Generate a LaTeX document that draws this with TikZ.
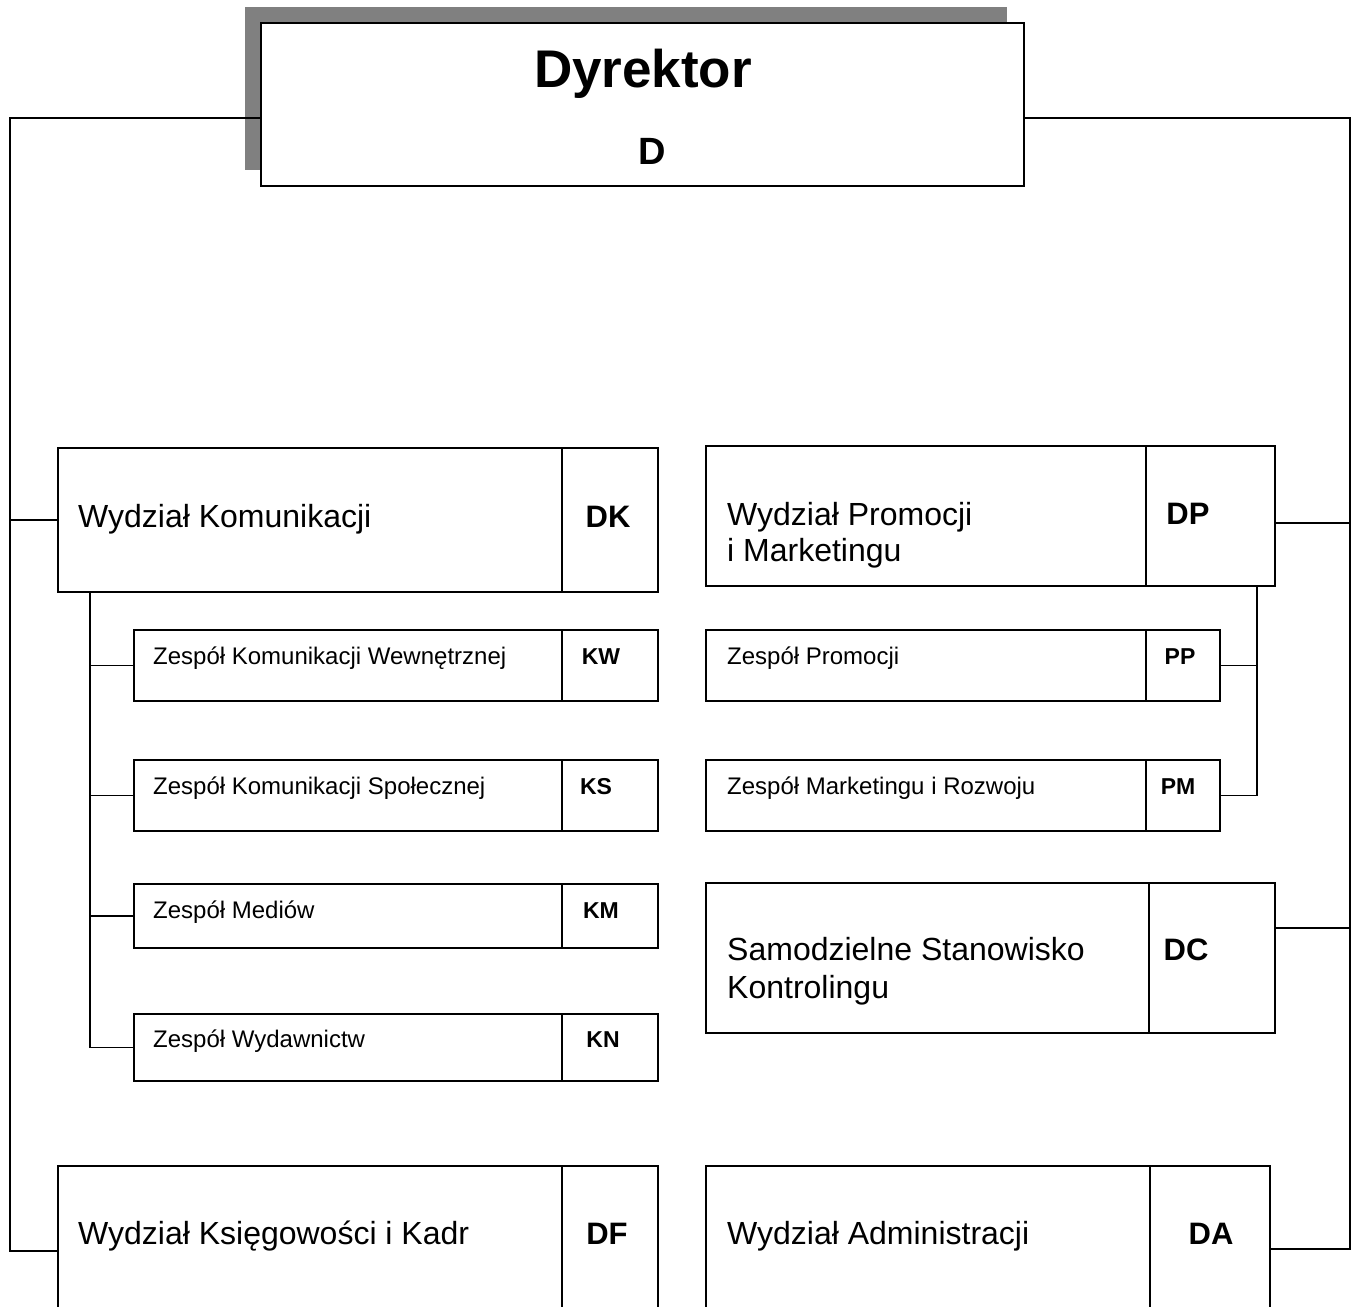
\documentclass[tikz,border=0pt]{standalone}
\usepackage{fontspec}
\setmainfont{Liberation Sans}
\usetikzlibrary{calc}
\begin{document}
\begin{tikzpicture}[x=1pt,y=-1pt,
  box/.style={draw, line width=2pt, rectangle, inner sep=0pt, anchor=north west},
  divl/.style={line width=2pt},
  conn/.style={line width=1.8pt},
  big/.style={font=\fontsize{32}{38}\selectfont, anchor=base west, inner sep=0pt},
  small/.style={font=\fontsize{24}{29}\selectfont, anchor=base west, inner sep=0pt},
  bigcode/.style={font=\bfseries\fontsize{31}{36}\selectfont, anchor=base, inner sep=0pt},
  smallcode/.style={font=\bfseries\fontsize{23}{28}\selectfont, anchor=base, inner sep=0pt}]
\useasboundingbox (0,0) rectangle (1356,1306);
\clip (0,0) rectangle (1356,1306);
\fill[white] (0,0) rectangle (1356,1306);
\newcommand\divider[2]{\draw[divl] ($(#1.north west)+(#2,0)$) -- ($(#1.south west)+(#2,0)$);}

% Director
\fill[black!50] (245,7) rectangle (1007,170);
\node[box, fill=white, minimum width=763pt, minimum height=163pt] (d) at (260,22) {};
\node[font=\bfseries\fontsize{53}{60}\selectfont, anchor=base, inner sep=0pt] (dname) at (643,87) {Dyrektor};
\node[font=\bfseries\fontsize{38}{44}\selectfont, anchor=base, inner sep=0pt] (dcode) at (652,164) {D};

% Boxes
\node[box, minimum width=600pt, minimum height=144pt] (dk) at (57,447) {};
\node[box, minimum width=524pt, minimum height=71pt] (kw) at (133,629) {};
\node[box, minimum width=524pt, minimum height=71pt] (ks) at (133,759) {};
\node[box, minimum width=524pt, minimum height=64pt] (km) at (133,883) {};
\node[box, minimum width=524pt, minimum height=67pt] (kn) at (133,1013) {};
\node[box, minimum width=600pt, minimum height=170pt] (df) at (57,1165) {};
\node[box, minimum width=569pt, minimum height=140pt] (dp) at (705,445) {};
\node[box, minimum width=514pt, minimum height=71pt] (pp) at (705,629) {};
\node[box, minimum width=514pt, minimum height=71pt] (pm) at (705,759) {};
\node[box, minimum width=569pt, minimum height=150pt] (dc) at (705,882) {};
\node[box, minimum width=564pt, minimum height=166pt] (da) at (705,1165) {};

% Dividers
\divider{dk}{505}
\divider{kw}{429}
\divider{ks}{429}
\divider{km}{429}
\divider{kn}{429}
\divider{df}{505}
\divider{dp}{441}
\divider{pp}{441}
\divider{pm}{441}
\divider{dc}{444}
\divider{da}{445}

% Texts
\node[big] (tdk) at (78,527) {Wydział Komunikacji};
\node[bigcode] (cdk) at (608,527) {DK};
\node[small] (tkw) at (153,664) {Zespół Komunikacji Wewnętrznej};
\node[smallcode] (ckw) at (601,664) {KW};
\node[small] (tks) at (153,794) {Zespół Komunikacji Społecznej};
\node[smallcode] (cks) at (596,794) {KS};
\node[small] (tkm) at (153,918) {Zespół Mediów};
\node[smallcode] (ckm) at (601,918) {KM};
\node[small] (tkn) at (153,1047) {Zespół Wydawnictw};
\node[smallcode] (ckn) at (603,1047) {KN};
\node[big] (tdf) at (78,1244) {Wydział Księgowości i Kadr};
\node[bigcode] (cdf) at (607,1244) {DF};
\node[big] (tdp1) at (727,525) {Wydział Promocji};
\node[big] (tdp2) at (727,561) {i Marketingu};
\node[bigcode] (cdp) at (1188,524) {DP};
\node[small] (tpp) at (727,664) {Zespół Promocji};
\node[smallcode] (cpp) at (1180,664) {PP};
\node[small] (tpm) at (727,794) {Zespół Marketingu i Rozwoju};
\node[smallcode] (cpm) at (1178,794) {PM};
\node[big] (tdc1) at (727,960) {Samodzielne Stanowisko};
\node[big] (tdc2) at (727,998) {Kontrolingu};
\node[bigcode] (cdc) at (1186,960) {DC};
\node[big] (tda) at (727,1244) {Wydział Administracji};
\node[bigcode] (cda) at (1211,1244) {DA};

% Connectors
\coordinate (L) at (10,118);
\coordinate (R) at (1350,118);
\draw[conn] (d.west |- L) -- (L) |- (df.west);
\draw[conn] (dk.west) -- (dk.west -| L);
\draw[conn] (d.east |- R) -- (R) |- (da.east);
\coordinate (dpc) at ([yshift=-7pt]dp.east);
\draw[conn] (dpc) -- (dpc -| R);
\coordinate (dcc) at ([yshift=30pt]dc.east);
\draw[conn] (dcc) -- (dcc -| R);

\coordinate (kt) at ([xshift=33pt]dk.south west);
\draw[conn] (kt) |- (kn.west);
\foreach \n in {kw,ks,km} \draw[conn] (\n.west) -- (\n.west -| kt);

\coordinate (ptr) at ([xshift=-19pt]dp.south east);
\draw[conn] (ptr) |- (pm.east);
\draw[conn] (pp.east) -- (pp.east -| ptr);
\end{tikzpicture}
\end{document}
